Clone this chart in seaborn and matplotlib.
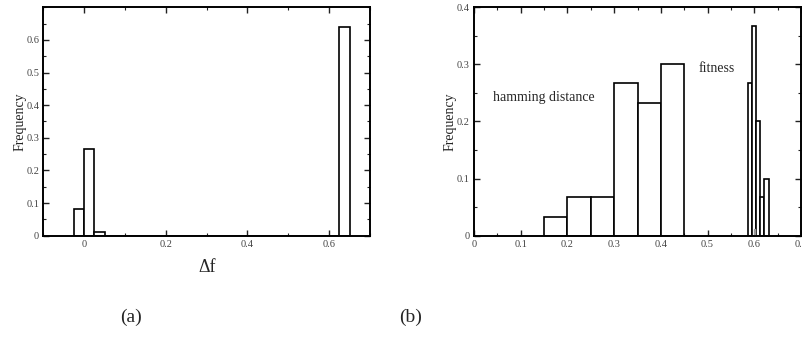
import numpy as np
import pandas as pd
import matplotlib
matplotlib.use("Agg")
import matplotlib.pyplot as plt
from matplotlib.ticker import MultipleLocator, FuncFormatter
import seaborn as sns

# ---- data ----
# panel (a): distribution of delta f
a_edges = [-0.025, 0.0, 0.025, 0.05, 0.625, 0.65]
a_freq = [0.083, 0.265, 0.010, 0.0, 0.640]

# panel (b): hamming distance histogram
hd_edges = [0.15, 0.20, 0.25, 0.30, 0.35, 0.40, 0.45]
hd_freq = [0.033, 0.067, 0.067, 0.267, 0.233, 0.300]

# panel (b): fitness histogram
fit_edges = [0.5865, 0.5953, 0.6041, 0.6129, 0.6217, 0.6310]
fit_freq = [0.267, 0.367, 0.200, 0.067, 0.100]

# small grey residual bar near 0.6
grey_edges = [0.5985, 0.6005]
grey_freq = [0.012]

sns.set_theme(style="white")
plt.rcParams["font.family"] = ["Liberation Serif", "DejaVu Serif"]

W, H = 802, 343
fig = plt.figure(figsize=(W / 100, H / 100), dpi=100)

def mk_axes(left, right, top=7.3, bottom=235.7):
    return fig.add_axes([left / W, (H - bottom) / H, (right - left) / W, (bottom - top) / H])

ax1 = mk_axes(43.3, 370)
ax2 = mk_axes(474, 801)


def hist(ax, edges, freq, color="black", lw=1.2):
    centers = [(edges[i] + edges[i + 1]) / 2 for i in range(len(edges) - 1)]
    df = pd.DataFrame({"x": centers, "w": list(freq)})
    sns.histplot(data=df, x="x", weights="w", bins=list(edges),
                 ax=ax, fill=True, facecolor="white", edgecolor=color,
                 linewidth=lw, alpha=1.0)


hist(ax1, a_edges, a_freq)
hist(ax2, hd_edges, hd_freq)
hist(ax2, fit_edges, fit_freq)
hist(ax2, grey_edges, grey_freq, color="#999999", lw=1.0)

fmt = FuncFormatter(lambda v, p: "0" if abs(v) < 1e-9 else f"{v:.1f}")

for ax in (ax1, ax2):
    ax.set_ylabel("Frequency", fontsize=10, labelpad=0)
    ax.tick_params(which="both", direction="in", top=True, right=True,
                   bottom=True, left=True, colors="#222222",
                   labelsize=7.5, labelcolor="#444444", pad=3)
    ax.tick_params(which="major", length=4, width=1.0)
    ax.tick_params(which="minor", length=2, width=0.8)
    for s in ax.spines.values():
        s.set_color("black")
        s.set_linewidth(1.4)
    ax.xaxis.set_major_formatter(fmt)
    ax.yaxis.set_major_formatter(fmt)
    ax.grid(False)

ax1.set_xlim(-0.1, 0.7)
ax1.set_ylim(0, 0.7)
ax1.xaxis.set_major_locator(MultipleLocator(0.2))
ax1.xaxis.set_minor_locator(MultipleLocator(0.1))
ax1.yaxis.set_major_locator(MultipleLocator(0.1))
ax1.yaxis.set_minor_locator(MultipleLocator(0.05))
ax1.set_xlabel("Δf", fontsize=13, labelpad=7)
ax1.set_yticks([0, 0.1, 0.2, 0.3, 0.4, 0.5, 0.6])

ax2.set_xlim(0, 0.7)
ax2.set_ylim(0, 0.4)
ax2.xaxis.set_major_locator(MultipleLocator(0.1))
ax2.xaxis.set_minor_locator(MultipleLocator(0.05))
ax2.yaxis.set_major_locator(MultipleLocator(0.1))
ax2.yaxis.set_minor_locator(MultipleLocator(0.05))
ax2.set_xlabel("")

ax2.text(0.041, 0.242, "hamming distance", fontsize=10, va="center", ha="left")
ax2.text(0.48, 0.292, "fitness", fontsize=10, va="center", ha="left")

fig.text(131 / W, 1 - 317 / H, "(a)", fontsize=14, ha="center", va="center")
fig.text(411 / W, 1 - 317 / H, "(b)", fontsize=14, ha="center", va="center")

fig.savefig("out.png", dpi=100, facecolor="white")
